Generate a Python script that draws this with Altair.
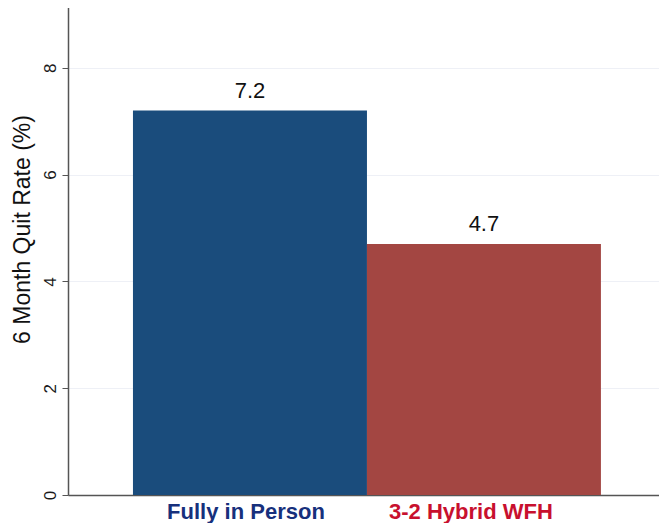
import altair as alt
import pandas as pd

categories = ["Fully in Person", "3-2 Hybrid WFH"]
values = [7.2, 4.7]
bar_colors = ["#1a4c7c", "#a34642"]
label_colors = ["#17307c", "#c8102e"]
y_ticks = [0, 2, 4, 6, 8]

df = pd.DataFrame({"cat": categories, "val": values})

x_enc = alt.X(
    "cat:N",
    sort=categories,
    title=None,
    scale=alt.Scale(paddingInner=0, paddingOuter=0.263, align=0.528),
    axis=alt.Axis(
        labelAngle=0,
        labelFont="Liberation Sans",
        labelFontWeight="bold",
        labelFontSize=22,
        labelColor=alt.condition(
            f"datum.value == '{categories[0]}'",
            alt.value(label_colors[0]),
            alt.value(label_colors[1]),
        ),
        labelBaseline="alphabetic",
        labelPadding=23,
        labelOffset=alt.condition(
            f"datum.value == '{categories[0]}'",
            alt.value(-4),
            alt.value(-13),
        ),
        ticks=False,
        domainColor="#555555",
        domainWidth=1.5,
        grid=False,
    ),
)

y_enc = alt.Y(
    "val:Q",
    title="6 Month Quit Rate (%)",
    scale=alt.Scale(domain=[0, 9.27], nice=False, zero=True),
    axis=alt.Axis(
        values=y_ticks,
        format="d",
        labelAngle=270,
        labelAlign="center",
        labelBaseline="bottom",
        labelFont="Liberation Sans",
        labelFontSize=17,
        labelColor="#1a1a1a",
        labelPadding=3,
        tickSize=6,
        tickColor="#555555",
        domainColor="#555555",
        domainWidth=1.5,
        gridColor="#eef0f6",
        gridWidth=1,
        titleFont="Liberation Sans",
        titleFontSize=23,
        titleFontWeight="normal",
        titleColor="#111111",
        titleAngle=270,
        titleAlign="center",
        titleBaseline="middle",
        titleX=-46,
        titleY=229,
    ),
)

bars = alt.Chart(df).mark_bar(size=234).encode(
    x=x_enc,
    y=y_enc,
    color=alt.Color("cat:N", scale=alt.Scale(domain=categories, range=bar_colors), legend=None),
)

text = alt.Chart(df).mark_text(
    baseline="alphabetic", dy=-13, fontSize=22, font="Liberation Sans", color="#111111"
).encode(
    x=alt.X("cat:N", sort=categories),
    y="val:Q",
    text=alt.Text("val:Q", format=".1f"),
)

chart = (
    alt.layer(bars, text)
    .properties(
        width=591,
        height=495,
        autosize=alt.AutoSizeParams(type="none"),
        padding={"left": 60, "top": -8, "right": 0, "bottom": 28},
    )
    .configure_view(stroke=None)
)

chart.save("out.html", embed_options={"renderer": "svg", "actions": False})
